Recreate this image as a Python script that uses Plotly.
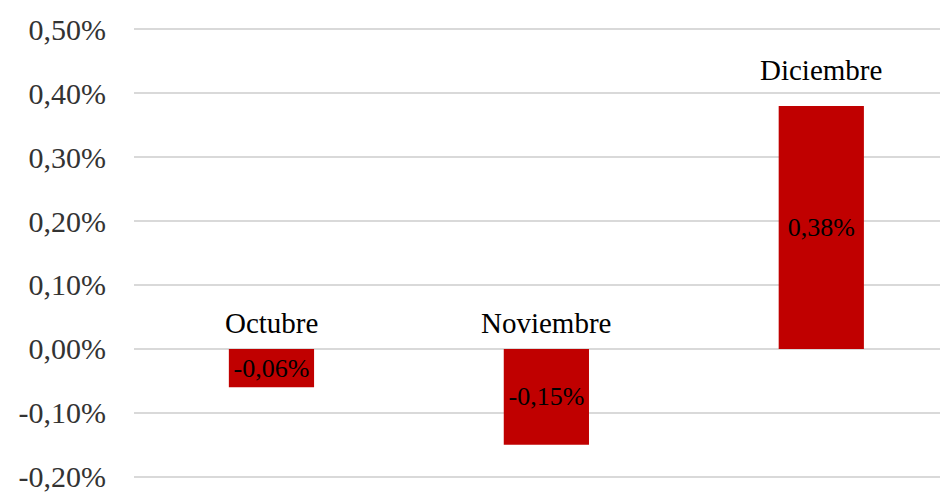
import plotly.graph_objects as go

meses = ["Octubre", "Noviembre", "Diciembre"]
variacion = [-0.06, -0.15, 0.38]  # en %
etiquetas = ["-0,06%", "-0,15%", "0,38%"]
ticks_y = [-0.2, -0.1, 0.0, 0.1, 0.2, 0.3, 0.4, 0.5]
ticks_txt = ["-0,20%", "-0,10%", "0,00%", "0,10%", "0,20%", "0,30%", "0,40%", "0,50%"]

fuente = "Liberation Serif, Times New Roman, serif"

fig = go.Figure()
fig.add_trace(go.Bar(
    x=list(range(len(meses))), y=variacion,
    marker=dict(color="#C00000", line=dict(width=0)),
    width=0.31,
    text=etiquetas, textposition="inside", insidetextanchor="middle",
    constraintext="none",
    textfont=dict(family=fuente, size=26, color="#000000"),
    hoverinfo="skip",
))

# nombre del mes sobre cada barra (o sobre el cero si es negativa)
for i, (mes, v) in enumerate(zip(meses, variacion)):
    fig.add_annotation(
        x=i, y=max(v, 0), text=mes, showarrow=False,
        yanchor="bottom", yshift=18 if v > 0 else 8,
        font=dict(family=fuente, size=29, color="#000000"),
    )

# la pagina deja 8px de margen en el body
fig.update_layout(
    width=948, height=493,
    margin=dict(l=126, r=0, t=18, b=21, autoexpand=False),
    plot_bgcolor="white", paper_bgcolor="white",
    showlegend=False,
    font=dict(family=fuente),
)
fig.update_xaxes(range=[-0.5, 2.49], showticklabels=False, showgrid=False,
                 zeroline=False, showline=False, ticks="", automargin=False)
fig.update_yaxes(range=[-0.205, 0.505], tickvals=ticks_y, ticktext=ticks_txt,
                 showgrid=True, gridcolor="#d9d9d9", gridwidth=2,
                 zeroline=True, zerolinecolor="#d9d9d9", zerolinewidth=2,
                 showline=False, ticks="", ticklabelstandoff=27, automargin=False,
                 tickfont=dict(family=fuente, size=30, color="#333333"))

fig.write_html("out.html")
